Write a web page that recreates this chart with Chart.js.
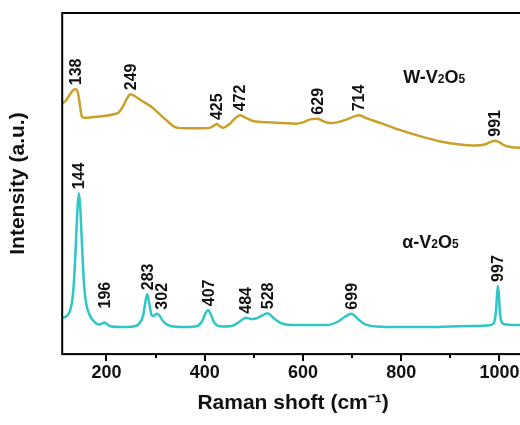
<!DOCTYPE html>
<html>
<head>
<meta charset="utf-8">
<title>Raman spectra</title>
<script src="https://cdn.jsdelivr.net/npm/chart.js@4.4.1/dist/chart.umd.min.js"></script>
<style>
  html, body { margin: 0; padding: 0; background: #fff; overflow: hidden; }
  #wrap { width: 540px; height: 425px; }
</style>
</head>
<body>
<div id="wrap"><canvas id="raman" width="540" height="425"></canvas></div>
<script>
// ---- spectra (wavenumber in cm-1, intensity in arbitrary units) ----
const W_SHIFT = [110, 118, 126, 132, 138, 143, 147, 150, 155, 170, 190, 215, 225, 235, 242, 249, 258, 270, 290, 320,
  341, 360, 390, 410, 420, 425, 430, 437, 450, 462, 472, 482, 500, 530, 560, 585, 600, 615, 629, 640,
  655, 670, 690, 705, 714, 730, 760, 800, 840, 880, 920, 950, 970, 982, 991, 1000, 1010, 1025, 1050];
const W_INTENSITY = [250, 253, 259, 263, 264, 258, 245, 237, 235.5, 236, 237, 239, 241, 248, 255, 259, 257, 253, 247, 234,
  226, 225, 225, 225.5, 228, 229.3, 227.5, 225.7, 229, 235, 238, 236, 232, 231, 230.3, 229.7, 231, 234, 234.7, 232.5,
  230.3, 231, 234, 237, 238, 235, 230, 223, 217, 212, 209, 208, 209, 211.5, 212.7, 211, 208, 206.2, 205.5];

const A_SHIFT = [110, 118, 125, 130, 133, 136, 139, 141.5, 144, 146.5, 149, 152, 155, 159, 165, 172, 185, 192, 196, 201,
  210, 230, 255, 268, 275, 279, 283, 287, 292, 296, 302, 308, 315, 330, 360, 385, 395, 401, 407, 413,
  420, 435, 455, 470, 484, 495, 505, 515, 528, 540, 555, 575, 610, 650, 670, 685, 699, 712, 725, 750,
  800, 850, 900, 950, 975, 985, 990, 993, 995, 997, 999, 1001, 1004, 1010, 1030, 1050];
const A_INTENSITY = [36, 37.5, 42, 52, 66, 91, 123, 148, 160.3, 148, 123, 91, 66, 50, 40, 34, 29.5, 30.5, 31.5, 30,
  27.5, 27, 27.5, 31, 39, 51, 59.7, 51, 39, 38, 40.3, 38.5, 33, 28, 27, 28, 33, 40, 43.7, 39,
  31, 27.5, 28, 32, 36.3, 35, 35.5, 38, 40.7, 36, 31, 29, 29, 29, 32, 37, 40.3, 35, 30, 27.5,
  27, 27, 27.5, 28, 28.5, 29.5, 33, 43, 58, 68, 58, 41, 32.5, 29.7, 29, 29];

// peak positions written above each spectrum
const W_PEAKS = [138, 249, 425, 472, 629, 714, 991];
const A_PEAKS = [144, 196, 283, 302, 407, 484, 528, 699, 997];

// x axis
const X_MIN = 110, X_MAX = 1050;
const X_TICKS = [200, 300, 400, 500, 600, 700, 800, 900, 1000];

const GOLD = '#c9a02a';
const CYAN = '#2fc6c6';
const FONT = '"Liberation Sans", Arial, sans-serif';

// label nudges (px) where the default spot would collide
const PEAK_NUDGE = { 196: [0, -10], 302: [5, 0] };

const toPoints = (xs, ys) => xs.map((x, i) => ({ x: x, y: ys[i] }));

// frame + outward ticks on the bottom axis
const framePlugin = {
  id: 'frame',
  afterDraw(chart) {
    const { ctx, chartArea: a, scales } = chart;
    ctx.save();
    ctx.strokeStyle = '#000';
    ctx.lineWidth = 2;
    ctx.strokeRect(a.left, a.top, a.right - a.left, a.bottom - a.top);
    X_TICKS.forEach(v => {
      const x = Math.round(scales.x.getPixelForValue(v));
      const len = v % 200 === 0 ? 7 : 4;
      ctx.beginPath();
      ctx.moveTo(x, a.bottom);
      ctx.lineTo(x, a.bottom + len);
      ctx.stroke();
    });
    ctx.restore();
  }
};

// rotated peak numbers
const peakLabelPlugin = {
  id: 'peakLabels',
  afterDatasetsDraw(chart) {
    const { ctx, scales } = chart;
    ctx.save();
    ctx.fillStyle = '#111';
    ctx.font = 'bold 16px ' + FONT;
    ctx.textAlign = 'left';
    ctx.textBaseline = 'middle';
    chart.data.datasets.forEach(ds => {
      ds.peaks.forEach(p => {
        const pt = ds.data.find(d => d.x === p);
        if (!pt) return;
        const nudge = PEAK_NUDGE[p] || [0, 0];
        const x = scales.x.getPixelForValue(pt.x) + nudge[0];
        const y = scales.y.getPixelForValue(pt.y) - 4 + nudge[1];
        ctx.save();
        ctx.translate(x + 1, y);
        ctx.rotate(-Math.PI / 2);
        ctx.fillText(String(p), 0, 0);
        ctx.restore();
      });
    });
    ctx.restore();
  }
};

// sample names with subscripts
const NAME_LABELS = [
  { parts: [['W-V', 0], ['2', 1], ['O', 0], ['5', 1]], x: 804, y: 276 },
  { parts: [['α-V', 0], ['2', 1], ['O', 0], ['5', 1]], x: 802, y: 112 }
];

const nameLabelPlugin = {
  id: 'nameLabels',
  afterDatasetsDraw(chart) {
    const { ctx, scales } = chart;
    ctx.save();
    ctx.fillStyle = '#111';
    ctx.textAlign = 'left';
    ctx.textBaseline = 'alphabetic';
    NAME_LABELS.forEach(lbl => {
      let x = scales.x.getPixelForValue(lbl.x);
      const base = scales.y.getPixelForValue(lbl.y) + 6;
      lbl.parts.forEach(([txt, sub]) => {
        ctx.font = sub ? 'bold 12px ' + FONT : 'bold 18px ' + FONT;
        ctx.fillText(txt, x, base);
        x += ctx.measureText(txt).width;
      });
    });
    ctx.restore();
  }
};

new Chart(document.getElementById('raman'), {
  type: 'line',
  data: {
    datasets: [
      {
        label: 'W-V2O5',
        data: toPoints(W_SHIFT, W_INTENSITY),
        peaks: W_PEAKS,
        borderColor: GOLD,
        borderWidth: 2.5,
        pointRadius: 0,
        cubicInterpolationMode: 'monotone',
        fill: false
      },
      {
        label: 'α-V2O5',
        data: toPoints(A_SHIFT, A_INTENSITY),
        peaks: A_PEAKS,
        borderColor: CYAN,
        borderWidth: 2.5,
        pointRadius: 0,
        cubicInterpolationMode: 'monotone',
        fill: false
      }
    ]
  },
  options: {
    responsive: false,
    animation: false,
    layout: { padding: { left: 0, right: 16, top: 13, bottom: 5.5 } },
    plugins: { legend: { display: false }, tooltip: { enabled: false } },
    scales: {
      x: {
        type: 'linear',
        min: X_MIN,
        max: X_MAX,
        afterBuildTicks: s => { s.ticks = X_TICKS.map(v => ({ value: v })); },
        border: { display: false },
        grid: { display: false },
        ticks: {
          autoSkip: false,
          maxRotation: 0,
          padding: 0.3,
          color: '#111',
          font: { family: FONT, size: 18, weight: 'bold' },
          callback: v => (v % 200 === 0 ? String(v) : '')
        },
        title: {
          display: true,
          text: 'Raman shoft (cm⁻¹)',
          color: '#111',
          font: { family: FONT, size: 21, weight: 'bold' },
          padding: { top: 6, bottom: 4 }
        }
      },
      y: {
        min: 0,
        max: 340,
        border: { display: false },
        grid: { display: false },
        ticks: { display: false },
        title: {
          display: true,
          text: 'Intensity (a.u.)',
          color: '#111',
          font: { family: FONT, size: 21, weight: 'bold' },
          padding: { top: 6, bottom: 23 }
        }
      }
    }
  },
  plugins: [framePlugin, peakLabelPlugin, nameLabelPlugin]
});
</script>
</body>
</html>
